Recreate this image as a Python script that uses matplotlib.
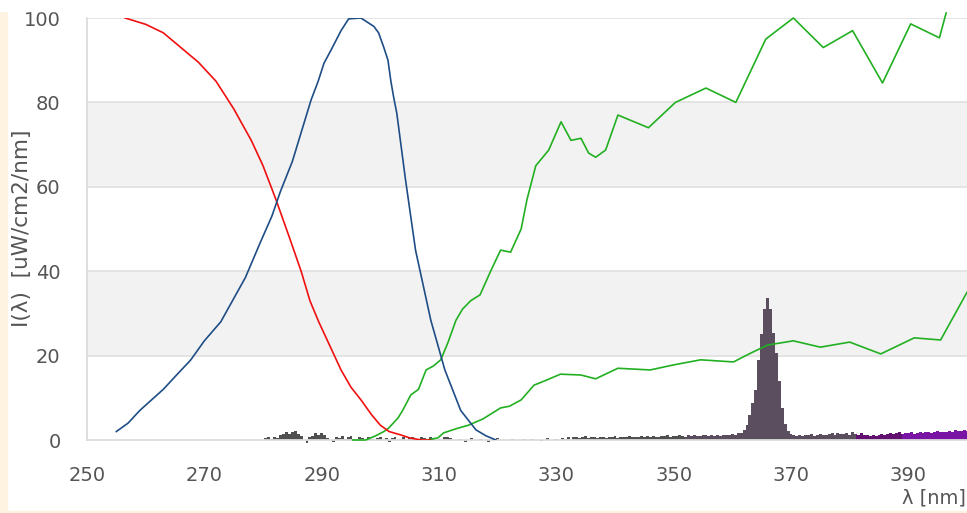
import numpy as np
import matplotlib
matplotlib.use("Agg")
import matplotlib.pyplot as plt
from matplotlib.patches import Rectangle

# red curve
red_x = [256.5, 260, 263, 266, 269, 272, 275, 278, 280, 282.2, 284.5, 286.5, 288,
         289.5, 291.5, 293.3, 295, 296.7, 298.5, 300, 301.5, 303.5, 305, 307, 308.5]
red_y = [100, 98.5, 96.5, 93, 89.5, 85, 78.5, 71, 65, 57, 48, 40, 33,
         28, 22, 16.6, 12.5, 9.5, 6, 3.5, 2, 1.2, 0.5, 0, 0]

# blue curve
blue_x = [255, 257, 259, 261, 263, 265, 267.7, 270, 272.8, 275, 277, 279.6, 281.5,
          283, 285, 287.3, 288.2, 289.4, 290.4, 291.6, 293.3, 294.6, 296.7, 298.9,
          299.7, 300.6, 301.3, 301.8, 302.3, 302.8, 304.3, 306, 308.6, 311, 313.7,
          316.3, 318, 319.7]
blue_y = [2, 4, 7, 9.5, 12, 15, 19, 23.5, 28, 33.5, 38.5, 47, 53,
          59, 66, 76.5, 80.6, 85, 89.3, 92.4, 97, 99.8, 100, 98,
          96.5, 93, 90, 85, 81, 77.5, 61.6, 45, 28.4, 16.6, 7,
          2.4, 1, 0]

# upper green curve
green1_x = [295.3, 297.5, 299.2, 300.6, 301.4, 303, 303.8, 305.2, 306.5, 307.8, 309,
            310.3, 311.5, 312.9, 314, 315.4, 317, 318.8, 320.5, 322.2, 324, 325,
            326.5, 328.7, 330.8, 332.5, 334.2, 335.5, 336.7, 338.4, 340.5, 345.7,
            350.3, 355.5, 360.6, 365.7, 370.4, 375.5, 380.5, 385.6, 390.4, 395.3,
            396.5, 397.5]
green1_y = [0, 0, 1, 2, 2.8, 5.2, 7, 10.7, 12, 16.6, 17.5,
            19, 23, 28.4, 31, 33, 34.4, 40, 45, 44.5, 50, 57,
            65, 68.7, 75.4, 71, 71.5, 68, 67, 68.7, 77, 74,
            80, 83.4, 80, 95, 100, 93, 97, 84.6, 98.6, 95.3,
            101.5, 108]

# lower green curve
green2_x = [308.0, 309.8, 310.8, 313, 315, 317.5, 320.5, 322, 324, 326.2, 328,
            330.7, 334.2, 336.7, 340.5, 346, 350, 354.6, 360.2, 363, 366, 370.4,
            375, 380, 385.3, 391, 395.5, 400]
green2_y = [0, 0.5, 1.7, 2.7, 3.5, 5, 7.6, 8, 9.5, 13, 14,
            15.6, 15.4, 14.5, 17, 16.6, 17.8, 19, 18.5, 20.5, 22.5, 23.5,
            22, 23.2, 20.4, 24.2, 23.7, 35]

# measured spectrum, 0.5 nm steps from 280 to 400 nm
spec_start = 280.0
spec_a = [0, 0.5, 0.6, 0.3, 0.6, 0.4, 1.2, 1.5, 2.0, 1.4,
          1.9, 2.2, 1.5, 1.0, 0.1, -0.6, 0.6, 1.0, 1.6, 1.2,
          1.7, 1.1, 0.5, 0.0, -0.5, 0.8, 0.5, 0.9, 0.2, 0.7,
          1.0, 0.3, 0.0, 0.6, 0.4, 0.0, 0.7, 0.3, 0.0, 0.5]
spec_b = [0.6, 0.0, 0.4, -0.4, 0.5, 0.7, 0.0, 0.3, 0.6, 0.0,
          0.4, 0.8, 0.2, 0.0, 0.6, 0.5, 0.0, 0.7, 0.4, 0.0,
          0.3, 0.0, 0.6, 0.8, 0.5, 0.0, 0.0, 0.3, 0.0, -0.4,
          0.0, 0.4, 0.0, 0.0, 0.3, 0.0, 0.0, -0.5, 0.0, 0.0,
          0.4, 0.0, 0.0, 0.0, 0.0, 0.3, 0.0, 0.0, 0.0, 0.2,
          0.0, 0.0, 0.3, 0.0, 0.0, -0.3, 0.0, 0.4, 0.0, 0.0]
spec_c = [0.3, 0.0, 0.5, 0.3, 0.7, 0.0, 0.6, 0.8, 0.4, 0.6,
          0.9, 0.5, 0.7, 0.6, 0.4, 0.8, 0.6, 0.5, 0.7, 0.6,
          0.9, 0.5, 0.6, 0.8, 0.6, 0.9, 0.7, 0.6, 0.8, 1.0,
          0.7, 0.9, 0.8, 1.0, 0.8, 0.7, 1.0, 0.9, 1.1, 0.8,
          1.0, 0.9, 1.2, 1.0, 0.8, 1.1, 0.9, 1.2, 1.0, 0.9,
          1.1, 1.3, 1.0, 1.2, 0.9, 1.1, 1.0, 1.2, 1.3, 1.1,
          1.4, 1.3, 1.6, 1.7]
spec_peak = [2.3, 3.5, 6.0, 8.7, 11.8, 19.0, 25.0, 31.0, 33.6, 31.0,
             25.4, 20.5, 14.0, 7.5, 3.8, 2.2, 1.5]
spec_d = [1.2, 1.0, 1.1, 0.9, 1.2, 1.1, 1.4, 1.0, 1.2, 1.5,
          1.3, 1.1, 1.4, 1.6, 1.2, 1.7, 1.5, 1.4, 1.6, 1.3,
          1.8, 1.5, 1.2, 1.6, 1.3, 1.1, 1.0, 1.2, 1.0, 1.1,
          1.4, 1.2, 1.5, 1.7, 1.4, 1.6, 1.9, 1.5, 1.7, 1.6,
          1.8, 1.5, 1.7, 1.9, 1.6, 1.8, 2.0, 1.7, 1.9, 2.1,
          1.8, 2.0, 1.9, 2.2, 2.0, 2.3, 2.1, 2.2, 2.4, 2.2]

spec_y = np.array(spec_a + spec_b + spec_c + spec_peak + spec_d)
spec_x = spec_start + 0.5 * np.arange(len(spec_y))

# wavelength bands and the fill colour used for each
band_edges = [280, 352, 381, 389, 400.5]
band_colors = ["#505050", "#5b4e5f", "#611070", "#7a14a4"]

fig = plt.figure(figsize=(9.67, 5.13), dpi=100)
ax = fig.add_axes([87 / 967, 1 - 440 / 513, 1 - 87 / 967, 422 / 513])

# light bands and grid
for lo in (20, 60):
    ax.axhspan(lo, lo + 20, color="#f2f2f2", zorder=0, lw=0)
for yv in (20, 40, 60, 80, 100):
    ax.axhline(yv, color="#e2e2e2", lw=1.3, zorder=1)

for lo, hi, c in zip(band_edges[:-1], band_edges[1:], band_colors):
    m = (spec_x >= lo - 0.25) & (spec_x <= hi)
    ax.fill_between(spec_x[m], 0, spec_y[m], step="mid", color=c, lw=0,
                    zorder=2, clip_on=False)

ax.plot(green2_x, green2_y, color="#22b022", lw=1.2, zorder=3)
ax.plot(green1_x, green1_y, color="#22b022", lw=1.2, zorder=3, clip_on=False)
ax.plot(red_x, red_y, color="#f01010", lw=1.2, zorder=4)
ax.plot(blue_x, blue_y, color="#1f4d86", lw=1.2, zorder=4)

ax.set_xlim(250, 400)
ax.set_ylim(0, 100)
ax.set_xticks(range(250, 400, 20))
ax.set_yticks(range(0, 101, 20))
ax.tick_params(length=0, labelsize=14, colors="#555555")
ax.tick_params(axis="x", pad=19)
ax.tick_params(axis="y", pad=19)
for s in ("top", "right"):
    ax.spines[s].set_visible(False)
for s in ("left", "bottom"):
    ax.spines[s].set_color("#dcdcdc")
    ax.spines[s].set_linewidth(1.3)

fig.text(22 / 967, 1 - 228 / 513, "I(λ)  [uW/cm2/nm]", rotation=90,
         ha="center", va="center", fontsize=15.5, color="#555555")
fig.text(966 / 967, 1 - 498 / 513, "λ [nm]", ha="right", va="center",
         fontsize=14, color="#555555")

# page edge strips
cream = "#fdf3e0"
fig.patches.append(Rectangle((0, 2 / 513), 7 / 967, 499 / 513,
                             transform=fig.transFigure, color=cream, zorder=10))
fig.patches.append(Rectangle((0, 0), 1, 2 / 513,
                             transform=fig.transFigure, color=cream, zorder=10))
fig.patches.append(Rectangle((0, 1 - 11 / 513), 1, 11 / 513,
                             transform=fig.transFigure, color="white", zorder=10))

fig.savefig("out.png", dpi=100)
